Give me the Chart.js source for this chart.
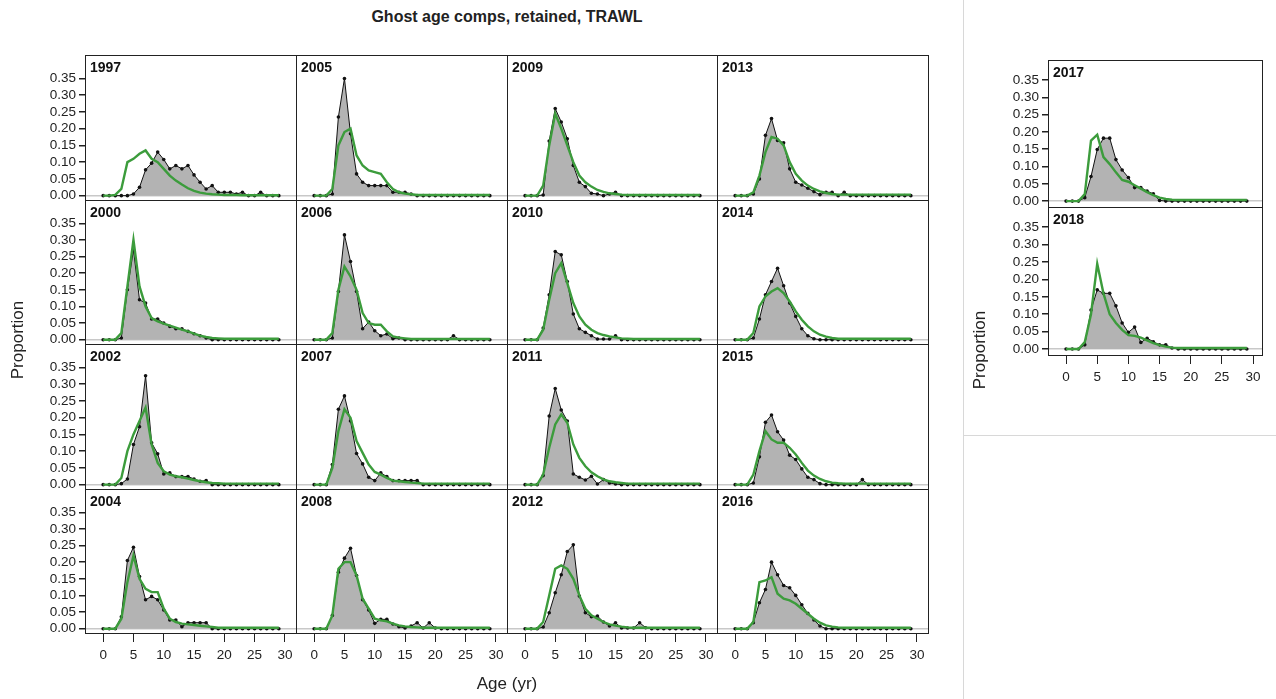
<!DOCTYPE html>
<html>
<head>
<meta charset="utf-8">
<script src="https://cdn.jsdelivr.net/npm/chart.js@4"></script>
<style>
  body { margin: 0; background: #fff; font-family: Arial, "Liberation Sans", sans-serif; }
  #page { position: relative; width: 1276px; height: 699px; overflow: hidden; }
  .wrap { position: absolute; }
  .yr { position: absolute; font-weight: bold; font-size: 14px; color: #111; }
  .lbl { position: absolute; color: #222; }
</style>
</head>
<body>
<div id="page"></div>
<script>
const ages = Array.from({length: 30}, (_, i) => i)
const xTicks = [0, 5, 10, 15, 20, 25, 30]
const yTicks = [0, 0.05, 0.10, 0.15, 0.20, 0.25, 0.30, 0.35]

// observed (black) and expected (green) proportions, ages 0..29
const obs1997 = [0,0,0,0,0,0.005,0.025,0.077,0.097,0.13,0.108,0.08,0.09,0.08,0.09,0.062,0.04,0.02,0.03,0.01,0.01,0.01,0.005,0.01,0,0,0.01,0,0,0]
const exp1997 = [0,0,0.002,0.02,0.1,0.11,0.125,0.135,0.11,0.1,0.08,0.06,0.045,0.033,0.022,0.014,0.009,0.006,0.004,0.003,0.002,0.002,0.002,0.001,0.001,0.001,0.001,0.001,0.001,0.001]
const obs2000 = [0,0,0,0.005,0.15,0.27,0.12,0.11,0.062,0.062,0.05,0.04,0.033,0.033,0.025,0.018,0.012,0.005,0,0,0,0,0,0,0,0,0,0,0,0]
const exp2000 = [0,0,0,0.02,0.16,0.3,0.16,0.1,0.065,0.055,0.048,0.042,0.036,0.03,0.025,0.018,0.012,0.008,0.005,0.004,0.003,0.003,0.003,0.003,0.003,0.003,0.003,0.003,0.003,0.003]
const obs2002 = [0,0,0,0.003,0.017,0.12,0.173,0.325,0.125,0.092,0.032,0.035,0.024,0.024,0.024,0.017,0.01,0.012,0,0,0,0,0,0,0,0,0,0,0,0]
const exp2002 = [0,0,0,0.02,0.1,0.15,0.19,0.23,0.12,0.065,0.04,0.03,0.025,0.022,0.018,0.014,0.01,0.007,0.005,0.004,0.003,0.003,0.003,0.003,0.003,0.003,0.003,0.003,0.003,0.003]
const obs2004 = [0,0,0,0.036,0.205,0.245,0.157,0.087,0.097,0.087,0.056,0.026,0.026,0.006,0.018,0.018,0.018,0.018,0,0,0,0,0,0,0,0,0,0,0,0]
const exp2004 = [0,0,0,0.03,0.14,0.22,0.15,0.12,0.11,0.11,0.06,0.03,0.02,0.015,0.013,0.011,0.009,0.007,0.005,0.003,0.003,0.003,0.003,0.003,0.003,0.003,0.003,0.003,0.003,0.003]
const obs2005 = [0,0,0,0.005,0.235,0.35,0.185,0.065,0.04,0.03,0.03,0.03,0.03,0.01,0.01,0.01,0.005,0,0,0,0,0,0,0,0,0,0,0,0,0]
const exp2005 = [0,0,0,0.02,0.15,0.19,0.2,0.12,0.09,0.075,0.07,0.065,0.04,0.02,0.01,0.006,0.004,0.002,0.002,0.002,0.002,0.002,0.002,0.002,0.002,0.002,0.002,0.002,0.002,0.002]
const obs2006 = [0,0,0,0.005,0.145,0.315,0.235,0.145,0.033,0.053,0.027,0.012,0.017,0.003,0.005,0,0,0,0,0,0,0,0,0.012,0,0,0,0,0,0]
const exp2006 = [0,0,0,0.02,0.15,0.22,0.19,0.15,0.08,0.05,0.045,0.045,0.025,0.01,0.006,0.004,0.002,0.002,0.002,0.002,0.002,0.002,0.002,0.002,0.002,0.002,0.002,0.002,0.002,0.002]
const obs2007 = [0,0,0,0.06,0.225,0.265,0.19,0.093,0.062,0.022,0.012,0.035,0.024,0.012,0.012,0.012,0.012,0.012,0,0,0,0,0,0,0,0,0,0,0,0]
const exp2007 = [0,0,0,0.05,0.16,0.225,0.2,0.13,0.095,0.06,0.038,0.03,0.02,0.012,0.01,0.008,0.006,0.005,0.003,0.003,0.003,0.003,0.003,0.003,0.003,0.003,0.003,0.003,0.003,0.003]
const obs2008 = [0,0,0,0.04,0.17,0.212,0.242,0.16,0.087,0.056,0.016,0.028,0.028,0.014,0.006,0.002,0.008,0.018,0.002,0.018,0.002,0,0,0,0,0,0,0,0,0]
const exp2008 = [0,0,0,0.04,0.18,0.2,0.2,0.16,0.09,0.06,0.03,0.025,0.022,0.015,0.01,0.007,0.005,0.004,0.003,0.003,0.003,0.003,0.003,0.003,0.003,0.003,0.003,0.003,0.003,0.003]
const obs2009 = [0,0,0,0.002,0.163,0.26,0.22,0.17,0.09,0.04,0.027,0.007,0.005,0,0.005,0.01,0,0,0,0,0,0,0,0,0,0,0,0,0,0]
const exp2009 = [0,0,0,0.03,0.15,0.245,0.2,0.15,0.1,0.06,0.04,0.027,0.017,0.011,0.007,0.005,0.003,0.002,0.002,0.002,0.002,0.002,0.002,0.002,0.002,0.002,0.002,0.002,0.002,0.002]
const obs2010 = [0,0,0,0.035,0.135,0.265,0.255,0.175,0.077,0.033,0.022,0.012,0.002,0.002,0.002,0.012,0,0,0,0,0,0,0,0,0,0,0,0,0,0]
const exp2010 = [0,0,0,0.03,0.12,0.2,0.23,0.17,0.11,0.07,0.045,0.03,0.02,0.014,0.01,0.007,0.004,0.003,0.002,0.002,0.002,0.002,0.002,0.002,0.002,0.002,0.002,0.002,0.002,0.002]
const obs2011 = [0,0,0,0.027,0.205,0.287,0.223,0.19,0.032,0.022,0.014,0.025,0.002,0.015,0.005,0.002,0,0,0,0,0,0,0,0,0,0,0,0,0,0]
const exp2011 = [0,0,0,0.03,0.11,0.18,0.21,0.185,0.12,0.08,0.055,0.037,0.025,0.016,0.01,0.007,0.005,0.003,0.003,0.003,0.003,0.003,0.003,0.003,0.003,0.003,0.003,0.003,0.003,0.003]
const obs2012 = [0,0,0,0.005,0.048,0.108,0.162,0.232,0.252,0.098,0.048,0.036,0.038,0.02,0.008,0.018,0.002,0.002,0.002,0.018,0.003,0,0,0,0,0,0,0,0,0]
const exp2012 = [0,0,0,0.02,0.1,0.18,0.19,0.18,0.15,0.1,0.06,0.04,0.03,0.02,0.013,0.009,0.006,0.004,0.003,0.003,0.003,0.003,0.003,0.003,0.003,0.003,0.003,0.003,0.003,0.003]
const obs2013 = [0,0,0,0.005,0.05,0.18,0.23,0.165,0.158,0.08,0.04,0.032,0.022,0.012,0.003,0.01,0.01,0,0.01,0,0,0,0,0,0,0,0,0,0,0]
const exp2013 = [0,0,0,0.01,0.06,0.13,0.175,0.17,0.15,0.1,0.065,0.045,0.03,0.02,0.013,0.008,0.005,0.003,0.003,0.003,0.003,0.003,0.003,0.003,0.003,0.003,0.003,0.003,0.003,0.003]
const obs2014 = [0,0,0,0.005,0.062,0.135,0.175,0.215,0.162,0.11,0.07,0.033,0.012,0.003,0,0,0,0,0,0,0,0,0,0,0,0,0,0,0,0]
const exp2014 = [0,0,0,0.02,0.1,0.13,0.145,0.155,0.14,0.115,0.085,0.06,0.04,0.025,0.015,0.009,0.005,0.003,0.003,0.003,0.003,0.003,0.003,0.003,0.003,0.003,0.003,0.003,0.003,0.003]
const obs2015 = [0,0,0,0.005,0.083,0.186,0.208,0.158,0.133,0.088,0.075,0.047,0.022,0.015,0.003,0,0,0,0,0,0,0.015,0,0,0,0,0,0,0,0]
const exp2015 = [0,0,0,0.03,0.1,0.16,0.135,0.125,0.125,0.11,0.09,0.065,0.042,0.027,0.017,0.01,0.006,0.004,0.003,0.003,0.003,0.003,0.003,0.003,0.003,0.003,0.003,0.003,0.003,0.003]
const obs2016 = [0,0,0,0.018,0.078,0.118,0.2,0.162,0.13,0.123,0.1,0.072,0.046,0.026,0.008,0,0,0,0,0,0,0,0,0,0,0,0,0,0,0]
const exp2016 = [0,0,0,0.02,0.14,0.145,0.155,0.105,0.09,0.085,0.075,0.06,0.045,0.03,0.018,0.01,0.006,0.004,0.003,0.003,0.003,0.003,0.003,0.003,0.003,0.003,0.003,0.003,0.003,0.003]
const obs2017 = [0,0,0,0.01,0.071,0.149,0.182,0.182,0.12,0.09,0.068,0.039,0.039,0.029,0.021,0.002,0,0,0,0,0,0,0,0,0,0,0,0,0,0]
const exp2017 = [0,0,0,0.02,0.175,0.192,0.127,0.107,0.083,0.061,0.056,0.046,0.036,0.026,0.017,0.01,0.006,0.004,0.003,0.003,0.003,0.003,0.003,0.003,0.003,0.003,0.003,0.003,0.003,0.003]
const obs2018 = [0,0,0,0.012,0.112,0.17,0.16,0.16,0.124,0.075,0.048,0.063,0.019,0.031,0.021,0.012,0.012,0.003,0,0,0,0,0,0,0,0,0,0,0,0]
const exp2018 = [0,0,0,0.02,0.1,0.245,0.16,0.1,0.075,0.055,0.04,0.038,0.033,0.025,0.017,0.011,0.007,0.004,0.003,0.003,0.003,0.003,0.003,0.003,0.003,0.003,0.003,0.003,0.003,0.003]

// main grid: years listed column by column
const mainCols = [
  [['1997', obs1997, exp1997], ['2000', obs2000, exp2000], ['2002', obs2002, exp2002], ['2004', obs2004, exp2004]],
  [['2005', obs2005, exp2005], ['2006', obs2006, exp2006], ['2007', obs2007, exp2007], ['2008', obs2008, exp2008]],
  [['2009', obs2009, exp2009], ['2010', obs2010, exp2010], ['2011', obs2011, exp2011], ['2012', obs2012, exp2012]],
  [['2013', obs2013, exp2013], ['2014', obs2014, exp2014], ['2015', obs2015, exp2015], ['2016', obs2016, exp2016]],
]
const sideCol = [['2017', obs2017, exp2017], ['2018', obs2018, exp2018]]

const page = document.getElementById('page')
const LEFT = 85, BOTTOM = 50

const framePlugin = {
  id: 'frame',
  afterDraw(chart) {
    const a = chart.chartArea, c = chart.ctx
    c.save()
    c.strokeStyle = '#222'
    c.lineWidth = 1
    c.strokeRect(Math.round(a.left) + 0.5, Math.round(a.top) + 0.5, Math.round(a.right - a.left) - 1, Math.round(a.bottom - a.top) - 1)
    c.restore()
  }
}

function addText(cls, txt, css) {
  const d = document.createElement('div')
  d.className = cls
  d.textContent = txt
  Object.assign(d.style, css)
  page.appendChild(d)
  return d
}

function panel(px, py, pw, ph, item, showY, showX, yr, xr) {
  const [year, obs, exp] = item
  const wrap = document.createElement('div')
  wrap.className = 'wrap'
  Object.assign(wrap.style, {left: (px - LEFT) + 'px', top: py + 'px', width: (pw + LEFT + 1) + 'px', height: (ph + BOTTOM + 1) + 'px'})
  const cv = document.createElement('canvas')
  wrap.appendChild(cv)
  page.appendChild(wrap)
  addText('yr', year, {left: (px + 5) + 'px', top: (py + 4) + 'px'})

  new Chart(cv, {
    type: 'line',
    data: {
      labels: ages,
      datasets: [
        {data: exp.map((v, i) => ({x: ages[i], y: v})), borderColor: '#3c9c3c', borderWidth: 2.4, pointRadius: 0, fill: false, order: 0, tension: 0},
        {data: obs.map((v, i) => ({x: ages[i], y: v})), borderColor: '#111', borderWidth: 1, backgroundColor: '#b3b3b3',
         fill: {value: 0}, pointRadius: 1.8, pointBackgroundColor: '#111', pointBorderWidth: 0, order: 1, tension: 0},
      ]
    },
    options: {
      responsive: true, maintainAspectRatio: false, animation: false,
      layout: {padding: 0, autoPadding: false},
      plugins: {legend: {display: false}, tooltip: {enabled: false}},
      scales: {
        x: {
          type: 'linear', min: xr[0], max: xr[1],
          afterBuildTicks: s => { s.ticks = xTicks.map(v => ({value: v})) },
          afterFit: s => { s.height = BOTTOM; s.paddingLeft = 0; s.paddingRight = 0 },
          border: {display: false},
          grid: {drawOnChartArea: false, tickLength: 8, tickColor: showX ? '#222' : 'rgba(0,0,0,0)'},
          ticks: {display: true, color: showX ? '#222' : 'rgba(0,0,0,0)', font: {size: 13.5, family: 'Arial'}, padding: 5, maxRotation: 0, autoSkip: false}
        },
        y: {
          min: yr[0], max: yr[1],
          afterBuildTicks: s => { s.ticks = yTicks.map(v => ({value: v})) },
          afterFit: s => { s.width = LEFT; s.paddingTop = 0; s.paddingBottom = 0 },
          border: {display: false},
          grid: {tickLength: 6, color: c => c.tick && c.tick.value === 0 ? '#c8c8c8' : 'rgba(0,0,0,0)',
                 tickColor: showY ? '#222' : 'rgba(0,0,0,0)', lineWidth: 1.5},
          ticks: {color: showY ? '#222' : 'rgba(0,0,0,0)', font: {size: 13.5, family: 'Arial'}, padding: 3,
                  callback: v => v.toFixed(2), autoSkip: false}
        }
      }
    },
    plugins: [framePlugin]
  })
}

// main grid
const colX = [85, 296, 507, 717, 928]
const rowY = [55, 199.5, 344, 488.5, 633]
mainCols.forEach((col, ci) => {
  col.forEach((item, ri) => {
    const x = Math.round(colX[ci]), y = Math.round(rowY[ri])
    panel(x, y, Math.round(colX[ci + 1]) - x, Math.round(rowY[ri + 1]) - y, item, ci === 0, ri === 3, [-0.016, 0.42], [-3, 32])
  })
})
// side column
const sideY = [60, 207, 355]
sideCol.forEach((item, ri) => {
  panel(1048, sideY[ri], 214, sideY[ri + 1] - sideY[ri], item, true, ri === 1, [-0.02, 0.408], [-2.9, 31.6])
})

addText('lbl', 'Ghost age comps, retained, TRAWL', {left: '0px', width: '1014px', top: '8px', textAlign: 'center', fontWeight: 'bold', fontSize: '16px'})
addText('lbl', 'Age (yr)', {left: '0px', width: '1014px', top: '674px', textAlign: 'center', fontSize: '17px'})
addText('lbl', 'Proportion', {left: '-32px', top: '330px', width: '100px', textAlign: 'center', fontSize: '17px', transform: 'rotate(-90deg)'})
addText('lbl', 'Proportion', {left: '930px', top: '340px', width: '100px', textAlign: 'center', fontSize: '17px', transform: 'rotate(-90deg)'})

// separator box of the side plot
const vline = document.createElement('div')
Object.assign(vline.style, {position: 'absolute', left: '963px', top: '0px', width: '1px', height: '699px', background: '#d8d8d8'})
page.appendChild(vline)
const hline = document.createElement('div')
Object.assign(hline.style, {position: 'absolute', left: '963px', top: '435px', width: '313px', height: '1px', background: '#d8d8d8'})
page.appendChild(hline)
</script>
</body>
</html>
